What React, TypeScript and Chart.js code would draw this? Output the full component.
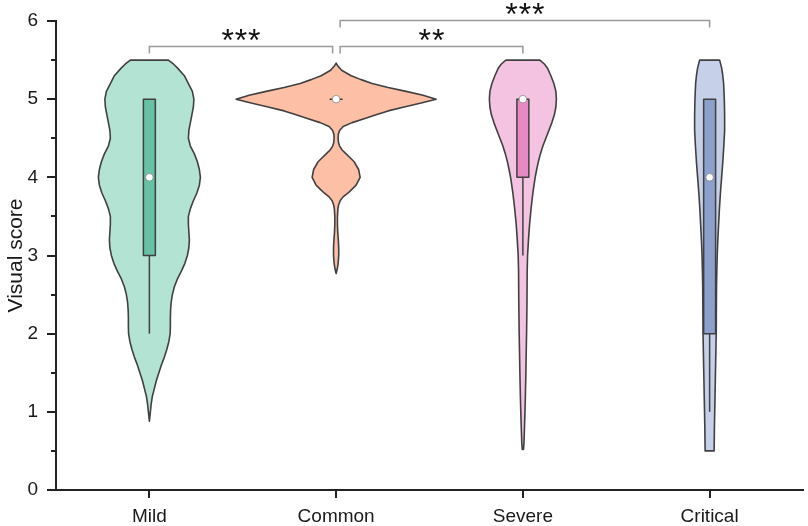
import React, { useEffect, useRef } from 'react';
import { Chart, registerables } from 'chart.js';

Chart.register(...registerables);

// ---------- data ----------
const categories = ['Mild', 'Common', 'Severe', 'Critical'];
const medians = [4, 5, 5, 4];
const q1 = [3, 5, 4, 2];
const q3 = [5, 5, 5, 5];
const whiskerLow = [2, 5, 3, 1];
const whiskerHigh = [5, 5, 5, 5];
const yMinorTicks = [0.5, 1.5, 2.5, 3.5, 4.5, 5.5];

// violin density profiles: [score, relative half-width (1 = widest density)]
const mildViolin: [number, number][] = [
  [5.5, 0.19], [5.45, 0.24], [5.4, 0.28], [5.3, 0.35], [5.2, 0.39], [5.1, 0.43], [5.0, 0.445],
  [4.9, 0.44], [4.8, 0.425], [4.7, 0.41], [4.6, 0.395], [4.5, 0.39], [4.4, 0.41], [4.3, 0.45],
  [4.2, 0.48], [4.1, 0.5], [4.0, 0.51], [3.9, 0.5], [3.8, 0.475], [3.7, 0.44], [3.6, 0.41],
  [3.5, 0.39], [3.4, 0.39], [3.3, 0.395], [3.2, 0.4], [3.1, 0.395], [3.0, 0.38], [2.9, 0.355],
  [2.8, 0.32], [2.7, 0.28], [2.6, 0.25], [2.5, 0.23], [2.4, 0.218], [2.3, 0.212], [2.2, 0.21],
  [2.1, 0.21], [2.0, 0.208], [1.9, 0.195], [1.8, 0.175], [1.7, 0.15], [1.6, 0.12], [1.5, 0.095],
  [1.4, 0.07], [1.3, 0.05], [1.2, 0.03], [1.1, 0.018], [1.0, 0.01], [0.88, 0],
];
const commonViolin: [number, number][] = [
  [5.46, 0], [5.42, 0.02], [5.37, 0.055], [5.3, 0.15], [5.25, 0.25], [5.2, 0.36], [5.15, 0.52],
  [5.1, 0.7], [5.05, 0.87], [5.0, 1.0], [4.95, 0.85], [4.9, 0.68], [4.85, 0.52], [4.8, 0.4],
  [4.75, 0.28], [4.7, 0.16], [4.65, 0.07], [4.6, 0.035], [4.55, 0.022], [4.5, 0.02], [4.45, 0.023],
  [4.4, 0.035], [4.35, 0.06], [4.3, 0.1], [4.25, 0.14], [4.2, 0.18], [4.1, 0.225], [4.0, 0.24],
  [3.9, 0.2], [3.85, 0.16], [3.8, 0.12], [3.75, 0.07], [3.7, 0.04], [3.65, 0.025], [3.6, 0.018],
  [3.5, 0.013], [3.4, 0.013], [3.3, 0.016], [3.2, 0.022], [3.1, 0.026], [3.0, 0.026], [2.9, 0.02],
  [2.82, 0.01], [2.77, 0],
];
const severeViolin: [number, number][] = [
  [5.5, 0.17], [5.45, 0.215], [5.4, 0.245], [5.3, 0.28], [5.2, 0.31], [5.1, 0.33], [5.0, 0.335],
  [4.9, 0.33], [4.8, 0.315], [4.7, 0.29], [4.6, 0.26], [4.5, 0.23], [4.4, 0.2], [4.3, 0.175],
  [4.2, 0.155], [4.1, 0.138], [4.0, 0.123], [3.8, 0.1], [3.6, 0.082], [3.4, 0.067], [3.2, 0.056],
  [3.0, 0.047], [2.8, 0.043], [2.6, 0.042], [2.4, 0.041], [2.2, 0.039], [2.0, 0.037], [1.8, 0.034],
  [1.5, 0.03], [1.2, 0.025], [1.0, 0.021], [0.8, 0.016], [0.6, 0.011], [0.52, 0.006],
];
const criticalViolin: [number, number][] = [
  [5.5, 0.1], [5.4, 0.12], [5.3, 0.132], [5.2, 0.14], [5.0, 0.147], [4.8, 0.15], [4.6, 0.15],
  [4.4, 0.142], [4.2, 0.132], [4.0, 0.12], [3.8, 0.108], [3.6, 0.098], [3.4, 0.09], [3.2, 0.082],
  [3.0, 0.076], [2.8, 0.072], [2.6, 0.069], [2.4, 0.068], [2.2, 0.067], [2.0, 0.066], [1.8, 0.063],
  [1.6, 0.06], [1.4, 0.057], [1.2, 0.054], [1.0, 0.051], [0.8, 0.048], [0.6, 0.046], [0.5, 0.045],
];
const violins = [mildViolin, commonViolin, severeViolin, criticalViolin];

// significance brackets between categories
const bracketFrom = [0, 1, 1];
const bracketTo = [1, 2, 3];
const bracketLabels = ['***', '**', '***'];
const bracketLevels = [5.68, 5.68, 6.01];

// ---------- styles ----------
const violinFills = ['#b3e3d2', '#fdbfa5', '#f3c3e1', '#c6d0e8'];
const boxFills = ['#66c2a5', '#fc8d62', '#e78ac3', '#8da0cb'];
const OUTLINE = '#404040';
const AXIS = '#222222';
const FONT = "'Liberation Sans', Arial, Helvetica, sans-serif";
const MAX_HALF = 0.5355; // category units for relative width 1
const BOX_HALF = 0.032; // category units

const violinPlugin = {
  id: 'violins',
  beforeDatasetsDraw(chart: any) {
    const { ctx, scales } = chart;
    const x = scales.x;
    const y = scales.y;
    ctx.save();
    violins.forEach((prof, i) => {
      ctx.beginPath();
      prof.forEach(([v, d], k) => {
        const px = x.getPixelForValue(i + d * MAX_HALF);
        const py = y.getPixelForValue(v);
        if (k === 0) ctx.moveTo(px, py);
        else ctx.lineTo(px, py);
      });
      for (let k = prof.length - 1; k >= 0; k--) {
        const [v, d] = prof[k];
        ctx.lineTo(x.getPixelForValue(i - d * MAX_HALF), y.getPixelForValue(v));
      }
      ctx.closePath();
      ctx.fillStyle = violinFills[i];
      ctx.fill();
      ctx.lineWidth = 1.6;
      ctx.lineJoin = 'round';
      ctx.strokeStyle = OUTLINE;
      ctx.stroke();

      // whiskers
      const cx = x.getPixelForValue(i);
      ctx.lineWidth = 1.5;
      ctx.beginPath();
      ctx.moveTo(cx, y.getPixelForValue(q1[i]));
      ctx.lineTo(cx, y.getPixelForValue(whiskerLow[i]));
      ctx.moveTo(cx, y.getPixelForValue(q3[i]));
      ctx.lineTo(cx, y.getPixelForValue(whiskerHigh[i]));
      ctx.stroke();

      // box
      const bl = x.getPixelForValue(i - BOX_HALF);
      const br = x.getPixelForValue(i + BOX_HALF);
      const bt = y.getPixelForValue(q3[i]);
      const bb = y.getPixelForValue(q1[i]);
      ctx.fillStyle = boxFills[i];
      ctx.fillRect(bl, bt, br - bl, bb - bt);
      ctx.strokeRect(bl, bt, br - bl, bb - bt);
    });
    ctx.restore();
  },
  afterDraw(chart: any) {
    const { ctx, scales, chartArea } = chart;
    const x = scales.x;
    const y = scales.y;
    ctx.save();
    // minor y ticks
    ctx.strokeStyle = AXIS;
    ctx.lineWidth = 2;
    yMinorTicks.forEach((v) => {
      const py = Math.round(y.getPixelForValue(v));
      ctx.beginPath();
      ctx.moveTo(chartArea.left - 5, py);
      ctx.lineTo(chartArea.left, py);
      ctx.stroke();
    });
    // brackets
    ctx.strokeStyle = '#9a9a9a';
    ctx.lineWidth = 1.5;
    ctx.fillStyle = '#111';
    ctx.font = `32px ${FONT}`;
    ctx.textAlign = 'center';
    ctx.textBaseline = 'alphabetic';
    bracketFrom.forEach((f, k) => {
      const t = bracketTo[k];
      const shiftL = bracketTo.includes(f) ? 4 : 0;
      const shiftR = bracketFrom.includes(t) ? -3.5 : 0;
      const x1 = x.getPixelForValue(f) + shiftL;
      const x2 = x.getPixelForValue(t) + shiftR;
      const ly = Math.round(y.getPixelForValue(bracketLevels[k])) + 0.5;
      ctx.beginPath();
      ctx.moveTo(x1, ly + 7);
      ctx.lineTo(x1, ly);
      ctx.lineTo(x2, ly);
      ctx.lineTo(x2, ly + 7);
      ctx.stroke();
      const label = bracketLabels[k];
      const mid = (x1 + x2) / 2;
      const step = 13.3;
      for (let c = 0; c < label.length; c++) {
        ctx.fillText(label[c], mid + (c - (label.length - 1) / 2) * step, ly + 4);
      }
    });
    ctx.restore();
  },
};

export default function App() {
  const ref = useRef<HTMLCanvasElement | null>(null);
  useEffect(() => {
    document.body.style.margin = '0';
    const canvas = ref.current;
    if (!canvas) return;
    const chart = new Chart(canvas, {
      type: 'line',
      data: {
        labels: categories,
        datasets: [
          {
            data: medians,
            showLine: false,
            pointRadius: 3.8,
            pointHoverRadius: 3.8,
            pointBackgroundColor: '#ffffff',
            pointBorderColor: '#7a7a7a',
            pointBorderWidth: 0.7,
          },
        ],
      },
      options: {
        animation: false,
        responsive: false,
        devicePixelRatio: 1,
        events: [],
        layout: { padding: { top: 21, right: 5, left: 0, bottom: 0 } },
        plugins: { legend: { display: false }, tooltip: { enabled: false } },
        scales: {
          x: {
            type: 'category',
            offset: true,
            grid: {
              display: true,
              offset: false,
              drawOnChartArea: false,
              drawTicks: true,
              tickLength: 8,
              color: AXIS,
              lineWidth: 2,
            },
            border: { display: true, color: AXIS, width: 2 },
            ticks: { color: '#1a1a1a', font: { size: 19, family: FONT }, padding: 7, maxRotation: 0 },
            afterFit: (s: any) => {
              s.height = 36;
            },
          },
          y: {
            min: 0,
            max: 6,
            ticks: { stepSize: 1, color: '#1a1a1a', font: { size: 19, family: FONT }, padding: 9 },
            grid: {
              display: true,
              drawOnChartArea: false,
              drawTicks: true,
              tickLength: 9,
              color: AXIS,
              lineWidth: 2,
            },
            border: { display: true, color: AXIS, width: 2 },
            title: {
              display: true,
              text: 'Visual score',
              color: '#1a1a1a',
              font: { size: 21, family: FONT },
              padding: { top: 4, bottom: 0 },
            },
            afterFit: (s: any) => {
              s.width = 56;
            },
          },
        },
      },
      plugins: [violinPlugin],
    });
    return () => chart.destroy();
  }, []);
  return <canvas ref={ref} width={808} height={526} style={{ display: 'block' }} />;
}
